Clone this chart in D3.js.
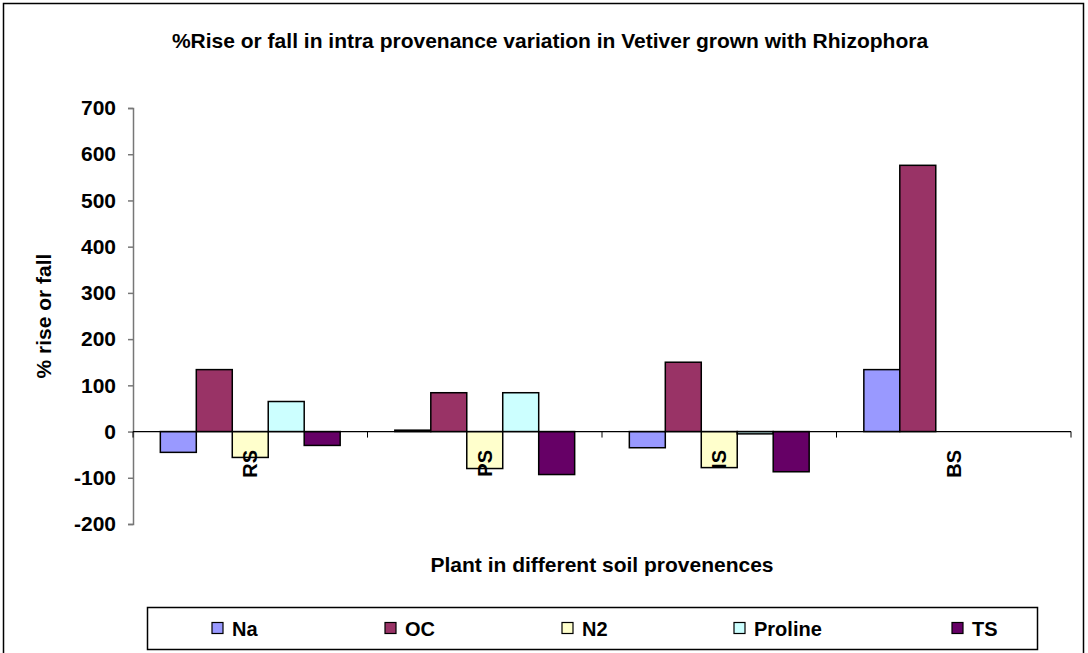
<!DOCTYPE html>
<html>
<head>
<meta charset="utf-8">
<title>Vetiver with Rhizophora</title>
<style>
  body { margin: 0; background: #fff; }
  text { font-family: "Liberation Sans", Arial, sans-serif; font-weight: bold; fill: #000; }
</style>
</head>
<body>
<div id="my_dataviz"></div>
<script src="https://d3js.org/d3.v7.min.js"></script>
<script>

    // categories and series
    var categories = ["RS", "PS", "IS", "BS"];
    var series = ["Na", "OC", "N2", "Proline", "TS"];
    var colors = ["#9999FF", "#993366", "#FFFFCC", "#CCFFFF", "#660066"];

    // % rise or fall, one array per series (RS, PS, IS, BS)
    var na      = [-45, 3, -35, 134];
    var oc      = [134, 84, 150, 576];
    var n2      = [-56, -80, -78, null];
    var proline = [65, 84, -5, null];
    var ts      = [-30, -93, -87, null];

    var yTicks = [-200, -100, 0, 100, 200, 300, 400, 500, 600, 700];

    var values = [na, oc, n2, proline, ts];

    var width = 1088, height = 653;

    var svg = d3.select("#my_dataviz")
      .append("svg")
        .attr("width", width)
        .attr("height", height);

    // outer frame
    svg.append("rect")
      .attr("x", 3.5).attr("y", 3.5)
      .attr("width", 1080).attr("height", 660)
      .attr("fill", "none")
      .attr("stroke", "#000")
      .attr("stroke-width", 1.5);

    // title
    svg.append("text")
      .attr("x", 550).attr("y", 48)
      .attr("text-anchor", "middle")
      .style("font-size", "21px")
      .text("%Rise or fall in intra provenance variation in Vetiver grown with Rhizophora");

    // scales
    var x0 = d3.scaleBand().domain(categories).range([133, 1071]).padding(0);
    var x1 = d3.scaleBand().domain(series).range([0, x0.bandwidth()]).paddingInner(0).paddingOuter(0.76);
    var y = d3.scaleLinear().domain([-200, 700]).range([524, 108]);

    // y axis
    var yAxis = d3.axisLeft(y).tickValues(yTicks).tickSize(5).tickPadding(12).tickFormat(function(d) { return String(d); });
    var gy = svg.append("g")
      .attr("transform", "translate(133,0)")
      .call(yAxis);
    gy.select(".domain").attr("stroke", "#777").attr("stroke-width", 1.5);
    gy.selectAll(".tick line").attr("stroke", "#777").attr("stroke-width", 1.5);
    gy.selectAll(".tick text")
      .style("font-size", "21px")
      .style("font-family", "'Liberation Sans', Arial, sans-serif")
      .style("font-weight", "bold");

    // y axis title
    svg.append("text")
      .attr("transform", "translate(51," + 316 + ") rotate(-90)")
      .attr("text-anchor", "middle")
      .style("font-size", "21px")
      .text("% rise or fall");

    // bars
    var groups = svg.append("g").selectAll("g")
      .data(series)
      .enter().append("g")
        .attr("fill", function(d, i) { return colors[i]; });

    groups.selectAll("rect")
      .data(function(s, i) {
        return categories.map(function(c, j) { return {cat: c, ser: s, v: values[i][j]}; })
          .filter(function(d) { return d.v !== null; });
      })
      .enter().append("rect")
        .attr("x", function(d) { return x0(d.cat) + x1(d.ser); })
        .attr("y", function(d) { return y(Math.max(0, d.v)); })
        .attr("width", x1.bandwidth())
        .attr("height", function(d) { return Math.abs(y(d.v) - y(0)); })
        .attr("stroke", "#000")
        .attr("stroke-width", 1.5);

    // zero line with category ticks
    svg.append("line")
      .attr("x1", 133).attr("x2", 1071)
      .attr("y1", y(0)).attr("y2", y(0))
      .attr("stroke", "#000").attr("stroke-width", 1.2);
    svg.append("g").selectAll("line")
      .data(categories.map(function(c) { return x0(c); }).concat([1071]))
      .enter().append("line")
        .attr("x1", function(d) { return d; })
        .attr("x2", function(d) { return d; })
        .attr("y1", y(0)).attr("y2", y(0) + 6)
        .attr("stroke", "#000").attr("stroke-width", 1);

    // category labels
    svg.append("g").selectAll("text")
      .data(categories)
      .enter().append("text")
        .attr("transform", function(d) { return "translate(" + (x0(d) + x0.bandwidth() / 2) + ",450) rotate(-90)"; })
        .attr("text-anchor", "end")
        .attr("dy", "0.35em")
        .style("font-size", "20px")
        .text(function(d) { return d; });

    // x axis title
    svg.append("text")
      .attr("x", 602).attr("y", 572)
      .attr("text-anchor", "middle")
      .style("font-size", "21px")
      .text("Plant in different soil provenences");

    // legend
    var legend = svg.append("g");
    legend.append("rect")
      .attr("x", 147.5).attr("y", 607.5)
      .attr("width", 890).attr("height", 42)
      .attr("fill", "#fff")
      .attr("stroke", "#000").attr("stroke-width", 1.5);

    var legendX = [212, 385, 562, 734, 952];
    var li = legend.selectAll("g.item")
      .data(series)
      .enter().append("g")
        .attr("class", "item")
        .attr("transform", function(d, i) { return "translate(" + legendX[i] + ",628)"; });
    li.append("rect")
      .attr("x", 0).attr("y", -5.5)
      .attr("width", 11).attr("height", 11)
      .attr("fill", function(d, i) { return colors[i]; })
      .attr("stroke", "#000").attr("stroke-width", 1.2);
    li.append("text")
      .attr("x", 20).attr("y", 7.5)
      .style("font-size", "20px")
      .text(function(d) { return d; });

</script>
</body>
</html>
